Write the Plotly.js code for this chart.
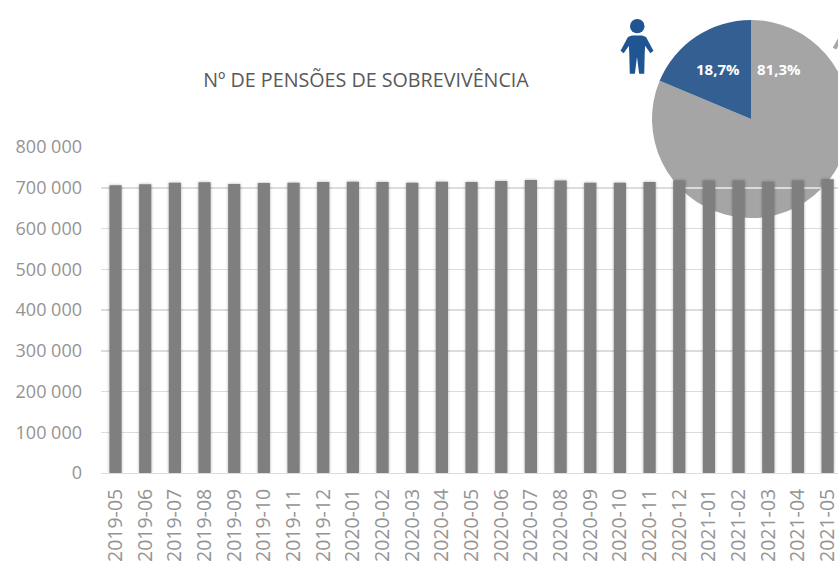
<!DOCTYPE html>
<html>
<head>
<meta charset="utf-8">
<script src="https://cdn.plot.ly/plotly-3.0.1.min.js"></script>
<style>
html,body{margin:0;padding:0;background:#fff;overflow:hidden;width:838px;height:562px}
#pie{position:absolute;left:652px;top:20px;width:198px;height:198px}
#bars{position:absolute;left:0;top:0;width:838px;height:562px}
.barlayer path{filter:drop-shadow(0 0 1.5px rgba(0,0,0,.3))}
</style>
</head>
<body>
<div id="pie"></div>
<div id="bars"></div>
<script>
const months = ['2019-05','2019-06','2019-07','2019-08','2019-09','2019-10','2019-11','2019-12','2020-01','2020-02','2020-03','2020-04','2020-05','2020-06','2020-07','2020-08','2020-09','2020-10','2020-11','2020-12','2021-01','2021-02','2021-03','2021-04','2021-05'];
const pensions = [706000,708500,712000,713500,709500,711500,712000,714000,715000,714000,712500,715000,714000,716500,719000,717500,712000,712500,714000,718000,718000,717500,715000,717500,721000];
const sliceLabels = ['Mulheres','Homens'];
const sliceValues = [81.3,18.7];
const sliceColors = ['#a5a5a5','#345f93'];
const chartTitle = 'Nº DE PENSÕES DE SOBREVIVÊNCIA';
const yTicks = [0,100000,200000,300000,400000,500000,600000,700000,800000];
const yTickText = ['0','100 000','200 000','300 000','400 000','500 000','600 000','700 000','800 000'];

const L=101,T=146.5,B=473,R=838;
const px=x=>(x-L)/(R-L), py=y=>(B-y)/(B-T);
const poly=pts=>'M'+pts.map(p=>px(p[0])+','+py(p[1])).join('L')+'Z';
const fmt=v=>v.toFixed(1).replace('.',',')+'%';
const font='"Open Sans", sans-serif';
const blue='#1f5593';

Plotly.newPlot('pie',[{type:'pie',labels:sliceLabels,values:sliceValues,sort:false,direction:'clockwise',rotation:0,
  marker:{colors:sliceColors,line:{width:0}},textinfo:'none',hoverinfo:'skip'}],
  {margin:{l:0,r:0,t:0,b:0},showlegend:false,paper_bgcolor:'rgba(0,0,0,0)',width:198,height:198},{displayModeBar:false,staticPlot:true});

const person=[
 [632,35.5],[642,35.5],[645.5,37],[652.5,50],[650.5,51.5],[644.5,43],[644,52],[643.5,72.5],[639.8,72.5],[637.2,52],[636.8,52],[634.2,72.5],[630.5,72.5],[630,52],[629.5,43],[623.5,51.5],[621.5,50],[628.5,37]
];
const shapes=[
 {type:'circle',xref:'paper',yref:'paper',x0:px(630),x1:px(644.5),y0:py(32.7),y1:py(18.3),fillcolor:blue,line:{width:0},layer:'above'},
 {type:'path',xref:'paper',yref:'paper',path:poly(person),fillcolor:blue,line:{color:blue,width:1.5},layer:'above'},
 {type:'line',xref:'paper',yref:'paper',x0:px(834.5),y0:py(48),x1:px(840),y1:py(38),line:{color:'#a9a99b',width:4},layer:'above'}
];
const ann=[
 {x:px(718),y:py(68),text:'<b>'+fmt(sliceValues[1])+'</b>'},
 {x:px(779),y:py(68),text:'<b>'+fmt(sliceValues[0])+'</b>'}
].map(a=>Object.assign(a,{xref:'paper',yref:'paper',xanchor:'center',yanchor:'middle',showarrow:false,font:{family:font,size:15,color:'#ffffff'}}));

Plotly.newPlot('bars',[{type:'bar',x:months,y:pensions,marker:{color:'#7f7f7f',line:{width:0}},hoverinfo:'skip'}],{
  width:838,height:562,margin:{l:L,r:0,t:T,b:562-B,pad:0},
  paper_bgcolor:'rgba(0,0,0,0)',plot_bgcolor:'rgba(0,0,0,0)',bargap:0.59,showlegend:false,
  title:{text:chartTitle,x:366/838,xanchor:'center',xref:'container',y:1-80/562,yanchor:'middle',yref:'container',font:{family:font,size:19.7,color:'#595959'}},
  xaxis:{type:'category',range:[-0.49,24.35],tickangle:-90,tickmode:'array',tickvals:months,ticktext:months,
    tickfont:{family:font,size:19.5,color:'#949494'},showgrid:false,zeroline:false,showline:true,linecolor:'#dcdcdc',linewidth:1,ticks:'',automargin:false,ticklabelstandoff:7},
  yaxis:{range:[0,800000],tickmode:'array',tickvals:yTicks,ticktext:yTickText,
    tickfont:{family:font,size:18,color:'#949494'},showgrid:true,gridcolor:'#dcdcdc',gridwidth:1.5,zeroline:false,showline:false,ticks:'',automargin:false,ticklabelstandoff:18},
  shapes:shapes,annotations:ann
},{displayModeBar:false,staticPlot:true});
</script>
</body>
</html>
